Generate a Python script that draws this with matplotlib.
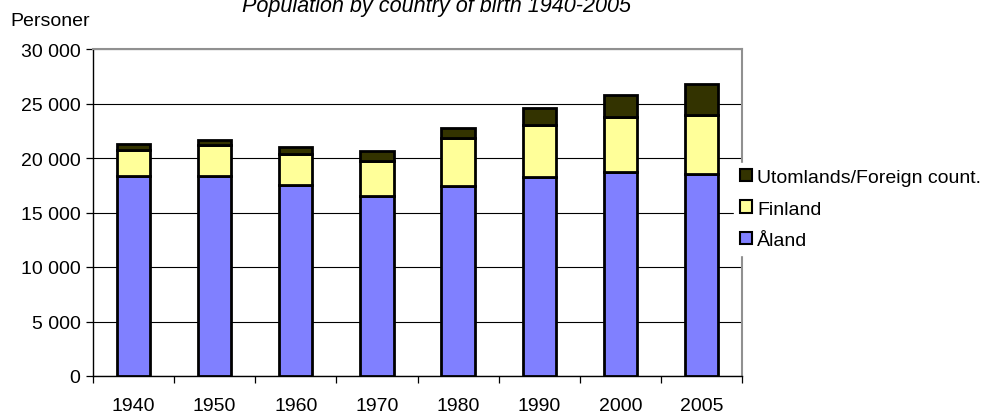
import matplotlib.pyplot as plt
from matplotlib.ticker import FuncFormatter, FixedLocator
from matplotlib.patches import Patch

plt.rcParams['font.family'] = ['Liberation Sans', 'DejaVu Sans']

# data
years = ["1940", "1950", "1960", "1970", "1980", "1990", "2000", "2005"]
aland = [18380, 18320, 17520, 16480, 17400, 18260, 18690, 18560]
finland = [2380, 2870, 2850, 3240, 4400, 4770, 5070, 5380]
foreign = [500, 490, 610, 950, 980, 1590, 2020, 2850]

c_aland = "#8080FF"
c_fin = "#FFFF99"
c_for = "#333300"

fs = 14

fig = plt.figure(figsize=(9.81, 4.14), dpi=100)
ax = fig.add_axes([93 / 981, 1 - 377 / 414, (742 - 93) / 981, (377 - 50) / 414])

x = list(range(len(years)))
w = 0.41
bottom2 = [a + f for a, f in zip(aland, finland)]
ax.bar(x, aland, width=w, color=c_aland, edgecolor="black", linewidth=2, zorder=3)
ax.bar(x, finland, width=w, bottom=aland, color=c_fin, edgecolor="black", linewidth=2, zorder=3)
ax.bar(x, foreign, width=w, bottom=bottom2, color=c_for, edgecolor="black", linewidth=2, zorder=3)

ax.set_xlim(-0.5, len(years) - 0.5)
ax.set_ylim(0, 30000)
ax.set_yticks(range(0, 30001, 5000))
ax.yaxis.set_major_formatter(FuncFormatter(lambda v, p: f"{int(v):,}".replace(",", " ")))
ax.grid(axis="y", color="black", linewidth=0.8, zorder=0)

ax.set_xticks(x)
ax.set_xticklabels(years)
ax.xaxis.set_minor_locator(FixedLocator([i - 0.5 for i in range(len(years) + 1)]))
ax.tick_params(axis="x", which="major", length=0, pad=15, labelsize=fs)
ax.tick_params(axis="x", which="minor", length=5, width=0.9, direction="out")
ax.tick_params(axis="y", length=5, width=0.9, direction="out", pad=4, labelsize=fs)

for s in ["left", "bottom"]:
    ax.spines[s].set_color("black")
    ax.spines[s].set_linewidth(1.0)
for s in ["top", "right"]:
    ax.spines[s].set_color("#909090")
    ax.spines[s].set_linewidth(1.5)

fig.text(10 / 981, 1 - 21 / 414, "Personer", fontsize=fs, va="center", ha="left")
fig.text(436 / 981, 1 - 12 / 414, "Population by country of birth 1940-2005",
         fontsize=15.6, style="italic", va="baseline", ha="center")

handles = [Patch(facecolor=c_for, edgecolor="black", linewidth=1.5),
           Patch(facecolor=c_fin, edgecolor="black", linewidth=1.5),
           Patch(facecolor=c_aland, edgecolor="black", linewidth=1.5)]
labels = ["Utomlands/Foreign count.", "Finland", "Åland"]
leg = fig.legend(handles, labels, loc="center left",
                 bbox_to_anchor=(734 / 981, 1 - 210 / 414),
                 frameon=True, fancybox=False, edgecolor="white", framealpha=1,
                 fontsize=fs, handlelength=0.6, handleheight=0.6,
                 handletextpad=0.3, labelspacing=0.75, borderpad=0.3,
                 borderaxespad=0)

fig.savefig("out.png", dpi=100)
